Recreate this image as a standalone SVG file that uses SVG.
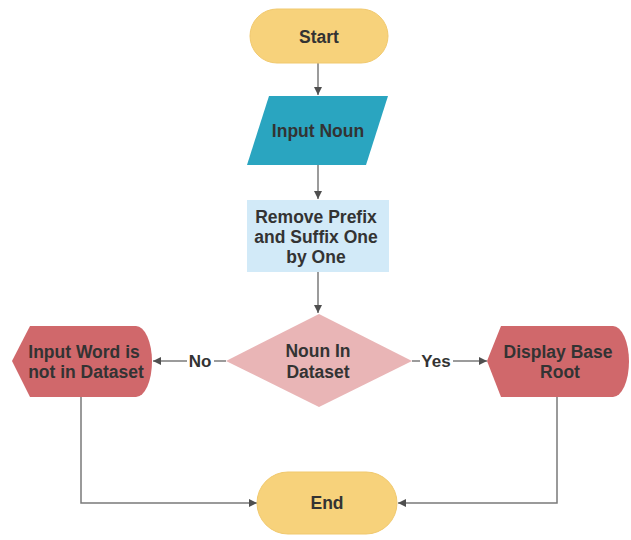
<svg xmlns="http://www.w3.org/2000/svg" width="631" height="540" viewBox="0 0 631 540">
  <style>
    .t { font-family: "Liberation Sans", Arial, sans-serif; font-weight: bold; font-size: 17.5px; fill: #333333; text-anchor: middle; dominant-baseline: central; }
    .lbl { font-family: "Liberation Sans", Arial, sans-serif; font-weight: bold; font-size: 17px; fill: #333333; text-anchor: middle; dominant-baseline: central; }
    .ln { fill: none; stroke: #7a7a7a; stroke-width: 1.5; }
    .term { fill: #f7d27b; stroke: #f1c96e; stroke-width: 1; }
  </style>
  <defs>
    <marker id="ah" viewBox="0 0 10 10" refX="10" refY="5" markerWidth="8" markerHeight="8" markerUnits="userSpaceOnUse" orient="auto">
      <path d="M0,0 L10,5 L0,10 Z" fill="#4f4f4f"/>
    </marker>
  </defs>
  <rect width="631" height="540" fill="#ffffff"/>

  <g id="connectors">
    <line class="ln" x1="318" y1="63" x2="318" y2="95" marker-end="url(#ah)"/>
    <line class="ln" x1="318" y1="165" x2="318" y2="199" marker-end="url(#ah)"/>
    <line class="ln" x1="318" y1="272" x2="318" y2="313" marker-end="url(#ah)"/>
    <line class="ln" x1="226" y1="361" x2="214" y2="361"/>
    <line class="ln" x1="187" y1="361" x2="153" y2="361" marker-end="url(#ah)"/>
    <text class="lbl" x="200" y="361">No</text>
    <line class="ln" x1="412" y1="361" x2="420" y2="361"/>
    <line class="ln" x1="453" y1="361" x2="487" y2="361" marker-end="url(#ah)"/>
    <text class="lbl" x="436" y="361">Yes</text>
    <polyline class="ln" points="81,397 81,503 257,503" marker-end="url(#ah)"/>
    <polyline class="ln" points="557,397 557,503 398,503" marker-end="url(#ah)"/>
  </g>

  <g id="start">
    <rect class="term" x="250" y="9" width="138" height="54" rx="27"/>
    <text class="t" x="319" y="37">Start</text>
  </g>

  <g id="input-noun">
    <polygon points="269,96 388,96 366,165 247,165" fill="#2aa5c0"/>
    <text class="t" x="318" y="131">Input Noun</text>
  </g>

  <g id="remove-affix">
    <rect x="247" y="200" width="142" height="72" fill="#d2eaf8"/>
    <text class="t" x="316" y="217">Remove Prefix</text>
    <text class="t" x="316" y="237">and Suffix One</text>
    <text class="t" x="316" y="257">by One</text>
  </g>

  <g id="decision">
    <polygon points="319,314 412,361 319,407 226,361" fill="#e9b5b6"/>
    <text class="t" x="318" y="351">Noun In</text>
    <text class="t" x="318" y="372">Dataset</text>
  </g>

  <g id="not-in-dataset">
    <path d="M12,361 L30,326 L136,326 A16,35.5 0 0 1 136,397 L30,397 Z" fill="#d0686b"/>
    <text class="t" x="84" y="352">Input Word is</text>
    <text class="t" x="86" y="372">not in Dataset</text>
  </g>

  <g id="display-root">
    <path d="M487,361 L501,326 L613,326 A16,35.5 0 0 1 613,397 L501,397 Z" fill="#d0686b"/>
    <text class="t" x="558" y="352">Display Base</text>
    <text class="t" x="560" y="372">Root</text>
  </g>

  <g id="end">
    <rect class="term" x="257" y="472" width="140" height="62" rx="31"/>
    <text class="t" x="327" y="503">End</text>
  </g>
</svg>
